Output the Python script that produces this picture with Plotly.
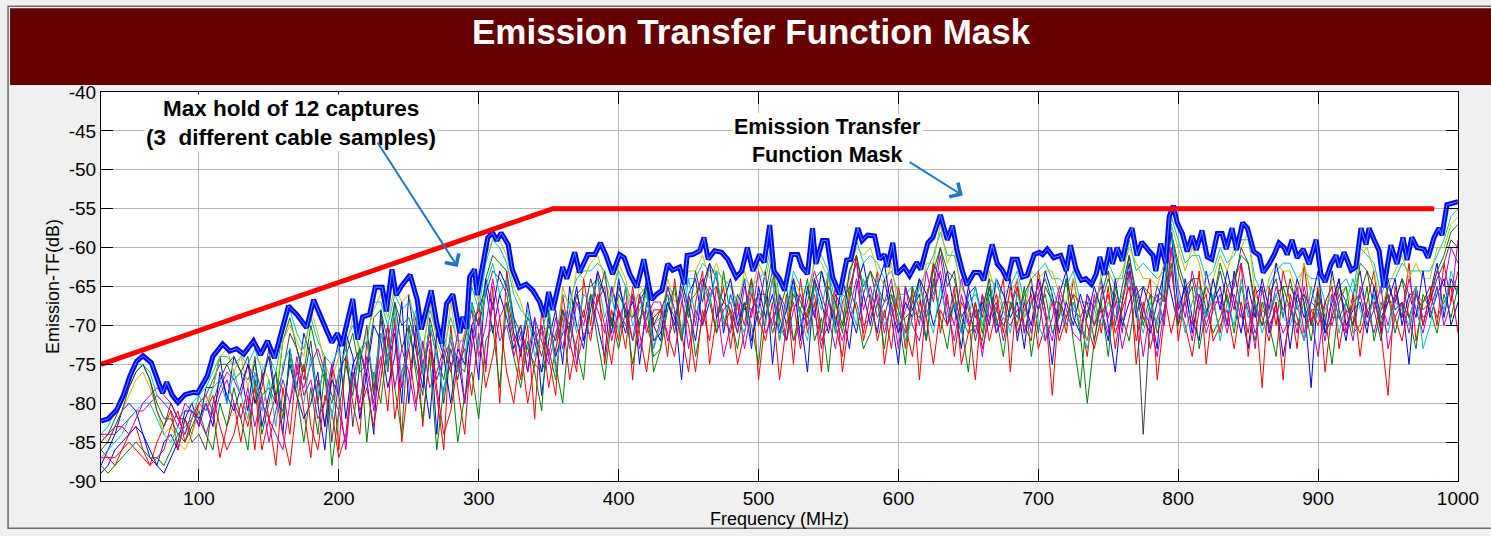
import plotly.graph_objects as go

# ---------------- data ----------------
freqs = list(range(30, 1001, 5))  # MHz grid of individual captures

mask_f = [30, 353, 983]
mask_db = [-75, -55, -55]

env_f = [30, 35, 41, 46, 50.7, 55.5, 60, 66, 71, 74, 77, 81, 85, 90, 96, 99, 106, 110, 117, 122,
         127, 132, 139, 144, 149, 154, 164, 170, 177, 182, 189, 195, 199, 202, 210, 213.5, 217, 222, 226, 231,
         234, 238, 241, 245, 251, 256, 259, 263, 266, 270, 273.5, 277, 281.5, 286.5, 288.5, 291, 293.5, 297, 299, 303,
         306.5, 310, 313, 316, 321, 324, 329, 334, 338.6, 343.6, 347, 350, 353, 360, 363, 368.6, 372, 378, 383, 387,
         391, 395.7, 400.7, 404, 408, 413, 418, 423.6, 427, 431, 435, 438.6, 443.6, 447, 449, 453, 458, 461, 464, 468.6,
         473.6, 478, 484, 488, 492, 496, 500.7, 504, 508, 511, 515, 518.6, 523.6, 528, 531, 535, 538.6, 541, 545.7, 549,
         553, 558, 563, 566, 571, 574, 578, 583, 586.5, 590, 592, 596, 599, 604, 608, 613, 616, 621, 624.6, 630,
         633, 635, 638.6, 642, 645.7, 649, 654, 658, 661, 667, 670.7, 674, 678, 681.4, 685, 688.6, 692, 697, 700.7, 703,
         706.4, 711, 716, 720, 723, 727, 730.7, 734, 738, 741.4, 744, 747, 751, 753, 756.4, 760, 763.6, 767, 770.5, 774,
         779, 782, 784, 787.5, 791, 793.6, 796.5, 799.3, 803, 806.4, 810, 813, 817, 820.7, 824, 828, 831.4, 834.3, 838.5, 841.7,
         846, 849.5, 854, 858, 860.7, 865, 868.6, 872, 875.7, 877.9, 881.4, 885, 889.3, 893.6, 898.6, 902, 905, 909.3, 912.9, 915,
         918.6, 923.6, 927, 930.7, 934.3, 936.4, 940, 943.6, 947, 952, 956.4, 960.7, 963.6, 967, 970.7, 975.7, 978.6, 982.9, 986.4, 988.6,
         992.1, 995.7, 1000]
env_db = [-82.3, -82.0, -80.9, -79.0, -76.5, -74.6, -73.9, -74.8, -77.3, -78.7, -77.3, -79.0, -79.9, -78.9, -78.6, -78.7, -76.5, -74.0, -72.4, -73.3,
          -73.0, -73.7, -72.0, -73.8, -72.0, -74.2, -67.5, -68.6, -70.3, -66.7, -69.7, -72.2, -71.0, -72.6, -66.6, -71.8, -68.9, -68.6, -65.1, -65.1,
          -68.2, -62.8, -66.1, -64.9, -63.5, -66.7, -70.5, -67.6, -65.5, -69.7, -72.3, -67.2, -66.0, -71.0, -68.9, -70.4, -63.8, -62.8, -66.1, -62.1,
          -58.7, -58.1, -59.1, -58.1, -59.6, -62.8, -65.1, -64.7, -65.5, -67.0, -68.9, -65.7, -68.0, -62.5, -64.0, -60.6, -63.2, -60.9, -60.9, -59.4,
          -61.0, -63.4, -60.9, -61.3, -63.4, -65.1, -61.5, -66.7, -66.0, -65.5, -62.1, -62.9, -62.5, -64.7, -61.0, -60.9, -60.4, -58.7, -61.5, -60.4,
          -60.6, -61.5, -63.8, -63.0, -60.0, -63.0, -60.9, -61.9, -57.1, -63.0, -64.0, -65.5, -60.9, -60.9, -62.5, -63.4, -57.5, -62.1, -59.1, -59.1,
          -63.8, -66.0, -61.6, -61.5, -57.5, -59.1, -58.4, -58.5, -61.5, -60.9, -62.5, -59.4, -63.4, -62.5, -63.6, -61.9, -62.8, -59.4, -58.7, -55.8,
          -57.9, -59.0, -57.2, -60.4, -63.0, -64.8, -63.2, -63.2, -64.2, -59.6, -62.1, -62.8, -64.2, -61.5, -61.5, -63.8, -63.6, -60.9, -60.6, -60.9,
          -60.2, -61.3, -61.0, -63.0, -59.7, -62.8, -64.2, -64.0, -64.7, -63.4, -61.2, -63.5, -60.0, -62.1, -60.0, -61.7, -58.7, -57.5, -61.0, -59.3,
          -60.4, -61.0, -63.0, -59.5, -62.0, -56.0, -54.6, -56.8, -58.2, -60.5, -58.5, -60.3, -57.8, -61.2, -61.5, -58.2, -58.2, -60.2, -57.5, -60.3,
          -56.8, -57.5, -60.5, -61.0, -63.2, -62.1, -60.9, -59.4, -60.0, -60.9, -59.0, -61.3, -60.2, -62.1, -59.0, -63.4, -64.4, -62.1, -61.0, -62.5,
          -60.6, -62.9, -62.5, -57.5, -59.6, -57.5, -59.0, -60.4, -65.1, -59.7, -62.1, -58.7, -61.6, -58.7, -60.0, -60.2, -61.3, -58.7, -57.5, -58.4,
          -54.5, -54.3, -54.1]

cap_cyan_a = [
    -84, -83, -81, -79, -77, -75, -75, -76, -79, -80,
    -80, -82, -81, -80, -79, -78, -76, -74, -74, -75,
    -74, -75, -73, -76, -74, -76, -71, -68, -71, -73,
    -69, -72, -74, -75, -73, -72, -70, -73, -72, -67,
    -67, -70, -66, -68, -67, -69, -73, -68, -71, -73,
    -69, -72, -72, -65, -68, -62, -59, -60, -62, -66,
    -68, -69, -70, -71, -70, -72, -66, -67, -64, -63,
    -63, -62, -63, -66, -63, -65, -67, -66, -65, -70,
    -69, -65, -66, -67, -64, -64, -62, -63, -63, -64,
    -65, -67, -64, -65, -64, -63, -59, -67, -68, -63,
    -65, -66, -62, -61, -63, -67, -66, -64, -59, -62,
    -61, -62, -64, -63, -66, -66, -65, -65, -63, -61,
    -58, -61, -61, -65, -67, -66, -68, -64, -65, -66,
    -65, -63, -67, -64, -63, -62, -64, -64, -65, -63,
    -67, -67, -68, -64, -62, -64, -64, -59, -63, -62,
    -63, -64, -63, -56, -59, -62, -61, -61, -64, -63,
    -60, -62, -61, -59, -59, -64, -66, -65, -63, -62,
    -62, -64, -63, -64, -64, -67, -65, -65, -64, -66,
    -60, -61, -62, -66, -64, -64, -62, -63, -63, -63,
    -63, -61, -59, -56, -55]
cap_green_a = [
    -85, -84, -82, -80, -78, -76, -75, -77, -80, -82,
    -82, -84, -83, -82, -80, -79, -77, -75, -75, -77,
    -76, -77, -75, -79, -78, -80, -72, -69, -73, -76,
    -70, -74, -77, -80, -76, -74, -71, -76, -75, -69,
    -68, -72, -67, -70, -69, -72, -76, -70, -74, -77,
    -71, -75, -76, -67, -70, -64, -61, -62, -63, -69,
    -71, -73, -75, -76, -73, -77, -68, -70, -66, -65,
    -65, -64, -66, -70, -66, -68, -72, -69, -68, -74,
    -73, -67, -69, -71, -67, -66, -64, -66, -65, -67,
    -68, -71, -67, -68, -66, -66, -61, -70, -72, -66,
    -68, -70, -64, -63, -66, -71, -70, -67, -61, -65,
    -63, -65, -67, -66, -70, -69, -68, -69, -66, -63,
    -60, -63, -64, -69, -71, -70, -72, -66, -68, -70,
    -68, -65, -71, -67, -66, -64, -67, -67, -69, -66,
    -71, -80, -72, -67, -64, -67, -67, -61, -66, -65,
    -66, -67, -66, -58, -62, -65, -64, -64, -68, -67,
    -62, -65, -64, -61, -62, -67, -70, -69, -66, -65,
    -65, -67, -66, -68, -68, -71, -69, -69, -67, -70,
    -62, -63, -65, -70, -67, -67, -64, -66, -66, -67,
    -66, -63, -61, -58, -57]
cap_olive = [
    -84, -85, -83, -81, -79, -77, -76, -78, -81, -84,
    -83, -85, -86, -84, -81, -80, -78, -74, -73, -76,
    -74, -78, -74, -75, -77, -79, -72, -70, -72, -74,
    -68, -71, -75, -77, -74, -73, -69, -74, -71, -68,
    -66, -69, -65, -67, -66, -70, -74, -67, -72, -75,
    -67, -73, -71, -64, -67, -61, -59, -59, -61, -65,
    -67, -70, -71, -73, -71, -74, -65, -68, -63, -64,
    -62, -61, -64, -67, -62, -64, -69, -65, -66, -72,
    -70, -64, -67, -66, -63, -63, -61, -64, -62, -65,
    -64, -68, -63, -66, -62, -64, -60, -69, -70, -64,
    -66, -69, -61, -62, -64, -69, -68, -63, -60, -61,
    -60, -63, -65, -62, -68, -67, -66, -67, -62, -62,
    -57, -62, -60, -66, -69, -68, -70, -63, -66, -68,
    -66, -64, -69, -63, -64, -63, -63, -66, -67, -64,
    -69, -72, -70, -63, -63, -65, -63, -60, -62, -64,
    -64, -65, -62, -57, -60, -63, -60, -62, -66, -64,
    -61, -63, -60, -60, -58, -66, -68, -64, -62, -63,
    -63, -66, -62, -66, -65, -69, -64, -66, -65, -68,
    -61, -60, -63, -68, -65, -63, -61, -64, -62, -64,
    -64, -60, -60, -57, -56]
cap_blue_a = [
    -88, -86, -84, -81, -80, -81, -84, -87, -88, -85,
    -84, -86, -82, -80, -83, -78, -78, -74, -80, -74,
    -76, -81, -74, -83, -79, -76, -84, -73, -78, -71,
    -74, -80, -86, -76, -72, -82, -75, -73, -77, -84,
    -68, -75, -71, -80, -66, -73, -78, -70, -84, -72,
    -75, -74, -80, -70, -68, -65, -71, -66, -69, -73,
    -70, -76, -69, -79, -72, -68, -75, -65, -70, -73,
    -66, -70, -74, -65, -68, -71, -66, -75, -67, -70,
    -72, -65, -68, -77, -66, -64, -70, -67, -63, -71,
    -66, -69, -64, -72, -68, -63, -75, -66, -70, -64,
    -69, -76, -64, -67, -71, -66, -68, -73, -65, -62,
    -67, -71, -64, -69, -75, -65, -68, -66, -72, -62,
    -64, -70, -67, -73, -66, -65, -69, -65, -71, -68,
    -64, -72, -67, -70, -64, -68, -75, -66, -63, -69,
    -71, -66, -68, -64, -70, -76, -67, -62, -69, -65,
    -68, -73, -62, -66, -70, -64, -69, -72, -63, -67,
    -65, -70, -63, -68, -73, -66, -65, -71, -67, -74,
    -69, -64, -67, -78, -65, -70, -63, -68, -72, -66,
    -63, -69, -66, -71, -64, -68, -67, -75, -65, -70,
    -66, -62, -69, -64, -66]
cap_red_a = [
    -87, -87, -88, -86, -84, -83, -86, -88, -85, -83,
    -81, -86, -82, -84, -80, -79, -81, -87, -83, -80,
    -85, -79, -86, -76, -82, -88, -78, -84, -75, -81,
    -87, -77, -83, -75, -86, -74, -80, -84, -72, -78,
    -74, -81, -69, -85, -77, -71, -83, -73, -79, -86,
    -70, -78, -84, -72, -67, -76, -65, -80, -63, -71,
    -77, -70, -82, -68, -74, -79, -66, -72, -76, -64,
    -70, -63, -75, -68, -72, -65, -77, -66, -71, -68,
    -68, -74, -64, -71, -76, -67, -63, -75, -69, -65,
    -73, -67, -70, -64, -77, -69, -64, -72, -66, -75,
    -64, -71, -67, -76, -63, -70, -74, -66, -61, -72,
    -68, -63, -75, -69, -66, -73, -65, -77, -67, -62,
    -71, -66, -74, -67, -69, -77, -66, -72, -68, -64,
    -76, -65, -70, -72, -63, -68, -79, -67, -71, -64,
    -69, -74, -66, -71, -65, -73, -67, -63, -75, -68,
    -64, -77, -69, -60, -72, -66, -70, -63, -75, -67,
    -71, -65, -68, -62, -74, -67, -78, -65, -70, -63,
    -67, -73, -62, -70, -65, -76, -68, -64, -71, -66,
    -74, -67, -63, -71, -79, -65, -69, -62, -72, -67,
    -65, -70, -62, -67, -63]
cap_magenta_a = [
    -85, -84, -84, -83, -82, -81, -81, -80, -79, -80,
    -81, -83, -80, -81, -82, -84, -81, -78, -76, -77,
    -79, -75, -77, -80, -82, -84, -86, -80, -76, -78,
    -75, -73, -76, -79, -81, -85, -77, -73, -76, -80,
    -71, -74, -70, -78, -73, -69, -75, -72, -77, -74,
    -72, -76, -71, -68, -74, -70, -64, -69, -67, -72,
    -70, -74, -69, -72, -75, -71, -68, -73, -67, -70,
    -66, -68, -71, -65, -69, -67, -72, -66, -70, -73,
    -69, -65, -68, -72, -66, -70, -64, -67, -71, -68,
    -67, -71, -65, -69, -63, -67, -70, -66, -68, -72,
    -70, -67, -63, -66, -69, -73, -67, -65, -62, -68,
    -65, -69, -67, -64, -71, -68, -66, -70, -63, -67,
    -61, -67, -70, -64, -68, -71, -66, -69, -67, -72,
    -68, -64, -71, -67, -65, -69, -72, -66, -70, -67,
    -70, -72, -67, -65, -69, -66, -71, -63, -67, -74,
    -68, -66, -70, -60, -65, -69, -63, -67, -71, -68,
    -66, -70, -64, -62, -67, -71, -68, -69, -65, -68,
    -67, -71, -65, -69, -74, -67, -70, -66, -68, -72,
    -65, -68, -71, -67, -70, -66, -69, -64, -68, -71,
    -67, -63, -65, -60, -62]
cap_gray = [
    -86, -85, -83, -81, -78, -76, -75, -77, -81, -83,
    -80, -82, -82, -85, -84, -86, -80, -77, -75, -74,
    -76, -74, -80, -78, -73, -79, -76, -71, -73, -77,
    -72, -80, -74, -85, -77, -72, -83, -75, -70, -79,
    -69, -76, -67, -73, -70, -75, -79, -69, -73, -80,
    -73, -77, -72, -68, -70, -66, -63, -64, -66, -71,
    -73, -69, -71, -74, -70, -72, -68, -71, -66, -69,
    -64, -67, -63, -70, -65, -68, -69, -67, -65, -70,
    -68, -66, -71, -65, -69, -63, -67, -62, -64, -69,
    -71, -66, -68, -64, -70, -67, -63, -69, -72, -65,
    -67, -69, -64, -71, -65, -67, -70, -63, -61, -66,
    -63, -67, -69, -65, -68, -71, -67, -64, -69, -65,
    -60, -65, -63, -69, -67, -72, -68, -64, -70, -67,
    -67, -69, -66, -64, -71, -65, -67, -69, -64, -68,
    -69, -67, -72, -66, -63, -70, -65, -61, -67, -84,
    -69, -65, -67, -58, -63, -66, -64, -68, -65, -67,
    -63, -67, -65, -60, -62, -68, -70, -66, -64, -69,
    -64, -68, -66, -70, -67, -71, -69, -65, -67, -70,
    -66, -63, -68, -72, -65, -67, -64, -69, -66, -68,
    -67, -64, -62, -59, -60]
cap_blue_b = [
    -89, -88, -86, -85, -84, -83, -84, -86, -88, -89,
    -87, -85, -81, -81, -82, -80, -83, -76, -79, -81,
    -78, -75, -80, -77, -74, -80, -81, -75, -79, -82,
    -80, -76, -83, -77, -79, -71, -74, -82, -76, -70,
    -72, -78, -74, -67, -80, -70, -76, -82, -71, -74,
    -80, -73, -75, -70, -77, -64, -68, -63, -65, -69,
    -74, -67, -72, -76, -69, -74, -71, -70, -65, -72,
    -68, -63, -66, -71, -64, -69, -67, -70, -64, -72,
    -71, -67, -70, -64, -68, -72, -65, -62, -69, -67,
    -64, -70, -67, -73, -65, -69, -66, -71, -68, -64,
    -72, -65, -69, -63, -67, -70, -64, -68, -71, -66,
    -70, -65, -62, -68, -71, -67, -69, -64, -66, -70,
    -67, -63, -68, -71, -65, -69, -67, -70, -64, -66,
    -69, -67, -73, -65, -68, -63, -66, -71, -67, -70,
    -66, -69, -65, -68, -72, -64, -70, -67, -65, -69,
    -71, -67, -63, -58, -68, -65, -71, -66, -69, -64,
    -68, -63, -67, -71, -65, -69, -64, -68, -62, -66,
    -73, -66, -69, -67, -63, -71, -67, -64, -70, -68,
    -67, -71, -65, -69, -67, -64, -70, -66, -69, -63,
    -69, -66, -64, -70, -67]
cap_green_b = [
    -88, -89, -88, -87, -86, -85, -86, -87, -87, -88,
    -86, -84, -85, -83, -81, -84, -86, -80, -83, -78,
    -82, -86, -77, -84, -80, -76, -82, -74, -79, -85,
    -78, -84, -76, -88, -81, -75, -79, -73, -85, -76,
    -80, -72, -78, -84, -70, -76, -82, -74, -86, -78,
    -75, -85, -79, -76, -82, -72, -70, -78, -67, -74,
    -78, -72, -76, -81, -68, -75, -80, -70, -73, -77,
    -66, -72, -77, -69, -73, -68, -75, -70, -65, -76,
    -73, -68, -65, -72, -67, -74, -69, -66, -71, -63,
    -69, -73, -67, -70, -75, -66, -71, -68, -65, -72,
    -68, -64, -72, -69, -76, -67, -71, -65, -68, -73,
    -71, -67, -73, -66, -69, -75, -65, -68, -72, -64,
    -69, -73, -66, -70, -76, -67, -71, -65, -69, -74,
    -67, -70, -65, -74, -68, -66, -71, -69, -64, -72,
    -78, -68, -70, -67, -74, -65, -69, -72, -66, -70,
    -66, -71, -68, -62, -70, -67, -65, -73, -68, -71,
    -69, -66, -71, -65, -68, -72, -67, -70, -74, -65,
    -68, -70, -67, -72, -66, -69, -75, -67, -65, -71,
    -70, -65, -72, -68, -66, -71, -67, -69, -73, -66,
    -68, -71, -66, -69, -65]
cap_red_b = [
    -86, -87, -87, -86, -85, -86, -87, -88, -87, -86,
    -83, -81, -85, -82, -80, -81, -79, -83, -86, -84,
    -80, -83, -78, -86, -82, -79, -84, -88, -80, -75,
    -83, -86, -79, -81, -87, -84, -76, -81, -78, -83,
    -77, -70, -82, -76, -73, -80, -75, -71, -78, -84,
    -81, -75, -73, -79, -71, -78, -74, -69, -76, -80,
    -73, -80, -75, -70, -78, -73, -69, -77, -72, -68,
    -72, -66, -70, -75, -68, -73, -65, -71, -76, -69,
    -68, -71, -74, -67, -70, -76, -68, -72, -65, -70,
    -68, -75, -71, -66, -69, -72, -67, -77, -70, -67,
    -73, -68, -66, -72, -70, -65, -76, -69, -67, -71,
    -66, -72, -68, -73, -65, -70, -74, -67, -69, -75,
    -68, -70, -65, -75, -71, -67, -73, -69, -66, -71,
    -65, -71, -68, -66, -73, -70, -67, -72, -69, -66,
    -67, -70, -73, -69, -66, -71, -68, -65, -72, -67,
    -73, -69, -66, -71, -67, -70, -74, -68, -66, -72,
    -70, -68, -73, -67, -71, -65, -69, -72, -67, -77,
    -66, -69, -72, -68, -70, -67, -65, -73, -68, -69,
    -71, -68, -67, -70, -66, -69, -72, -67, -65, -70,
    -66, -69, -67, -65, -71]
cap_cyan_b = [
    -87, -86, -85, -84, -82, -81, -80, -80, -82, -84,
    -85, -83, -84, -82, -79, -81, -78, -77, -80, -76,
    -79, -82, -76, -81, -77, -83, -75, -73, -78, -80,
    -74, -79, -75, -82, -76, -73, -78, -74, -72, -77,
    -71, -75, -68, -77, -72, -68, -76, -70, -74, -79,
    -71, -76, -74, -67, -73, -65, -62, -66, -64, -70,
    -72, -68, -74, -71, -67, -76, -70, -67, -71, -66,
    -67, -64, -69, -66, -71, -65, -70, -68, -66, -73,
    -70, -66, -68, -71, -64, -69, -65, -67, -63, -70,
    -66, -69, -71, -65, -68, -70, -64, -72, -67, -65,
    -69, -72, -65, -68, -63, -71, -66, -67, -70, -64,
    -67, -64, -70, -68, -66, -72, -69, -65, -68, -71,
    -65, -69, -67, -71, -69, -65, -70, -67, -64, -68,
    -71, -66, -69, -67, -70, -72, -65, -68, -70, -67,
    -70, -73, -68, -70, -67, -69, -66, -64, -68, -71,
    -67, -70, -65, -57, -66, -71, -67, -65, -69, -66,
    -72, -67, -70, -64, -69, -67, -71, -68, -66, -69,
    -70, -67, -72, -65, -69, -68, -66, -71, -67, -64,
    -68, -70, -66, -69, -71, -67, -68, -70, -65, -73,
    -70, -65, -68, -63, -66]
cap_magenta_b = [
    -84, -84, -83, -83, -84, -82, -80, -79, -78, -79,
    -80, -82, -84, -81, -83, -80, -82, -79, -77, -80,
    -82, -78, -83, -79, -85, -81, -77, -80, -74, -79,
    -77, -82, -80, -75, -79, -86, -76, -80, -74, -81,
    -75, -70, -78, -73, -76, -81, -72, -78, -76, -73,
    -76, -71, -80, -73, -69, -75, -67, -72, -70, -74,
    -71, -76, -72, -70, -74, -69, -73, -68, -75, -71,
    -71, -67, -65, -72, -68, -70, -66, -73, -69, -67,
    -67, -72, -69, -66, -73, -68, -70, -65, -67, -74,
    -70, -67, -73, -68, -66, -71, -69, -67, -72, -68,
    -66, -70, -68, -73, -67, -69, -72, -68, -64, -70,
    -69, -66, -71, -67, -73, -65, -70, -72, -67, -66,
    -63, -68, -72, -66, -70, -68, -74, -67, -71, -69,
    -70, -68, -67, -71, -66, -72, -69, -65, -68, -71,
    -72, -66, -70, -68, -71, -67, -73, -69, -65, -68,
    -70, -74, -68, -63, -69, -67, -72, -66, -70, -67,
    -67, -71, -66, -69, -67, -73, -65, -70, -68, -71,
    -69, -65, -71, -67, -68, -72, -66, -69, -71, -67,
    -66, -70, -68, -65, -73, -69, -67, -71, -66, -69,
    -68, -65, -70, -67, -59]

captures = [
    ("rgb(0,0,255)", cap_blue_a),
    ("rgb(0,128,0)", cap_green_a),
    ("rgb(255,0,0)", cap_red_a),
    ("rgb(0,191,191)", cap_cyan_a),
    ("rgb(191,0,191)", cap_magenta_a),
    ("rgb(191,191,0)", cap_olive),
    ("rgb(64,64,64)", cap_gray),
    ("rgb(0,0,255)", cap_blue_b),
    ("rgb(0,128,0)", cap_green_b),
    ("rgb(255,0,0)", cap_red_b),
    ("rgb(0,191,191)", cap_cyan_b),
    ("rgb(191,0,191)", cap_magenta_b),
]

title_text = "Emission Transfer Function Mask"
x_title = "Frequency (MHz)"
y_title = "Emission-TF(dB)"
x_ticks = [100, 200, 300, 400, 500, 600, 700, 800, 900, 1000]
x_tick_labels = ["100", "200", "300", "400", "500", "600", "700", "800", "900", "1000"]
y_ticks = [-90, -85, -80, -75, -70, -65, -60, -55, -50, -45, -40]
y_tick_labels = ["-90", "-85", "-80", "-75", "-70", "-65", "-60", "-55", "-50", "-45", "-40"]

# ---------------- figure ----------------
fig = go.Figure()
for color, vals in captures:
    fig.add_trace(go.Scatter(x=freqs, y=vals, mode="lines",
                             line=dict(color=color, width=1), hoverinfo="skip"))

fig.add_trace(go.Scatter(x=env_f, y=env_db, mode="lines",
                         line=dict(color="rgb(0,0,255)", width=5), name="Max hold"))
fig.add_trace(go.Scatter(x=env_f, y=env_db, mode="lines",
                         line=dict(color="rgb(70,150,255)", width=1), hoverinfo="skip"))
fig.add_trace(go.Scatter(x=mask_f, y=mask_db, mode="lines",
                         line=dict(color="rgb(255,0,0)", width=5), name="Mask"))

bold_font = "Liberation Sans, Arial, sans-serif"
base = "Liberation Sans, Arial, sans-serif"

W, H = 1491, 536
L, R, T, B = 101, 32, 92, 49
pw, ph = W - L - R, H - T - B


def px(xp):
    return (xp - L) / pw


def py(yp):
    return (H - B - yp) / ph


shapes = [
    dict(type="rect", xref="paper", yref="paper", x0=px(8), x1=px(1500), y0=py(535), y1=py(5),
         line=dict(color="#6a6a6a", width=1.5), fillcolor="rgba(0,0,0,0)", layer="below"),
    dict(type="rect", xref="paper", yref="paper", x0=px(10), x1=px(1500), y0=py(85), y1=py(7),
         line=dict(width=0), fillcolor="#660000"),
]

annotations = [
    dict(xref="paper", yref="paper", x=px(752), y=py(31), text="<b>" + title_text + "</b>",
         showarrow=False, font=dict(family=bold_font, size=35, color="white"), xanchor="center", yanchor="middle"),
    dict(x=166, y=-44.0, xref="x", yref="y",
         text="<b>Max hold of 12 captures<br>(3\u00a0 different cable samples)</b>",
         showarrow=False, font=dict(family=bold_font, size=22.5, color="black"), bgcolor="white",
         xanchor="center", yanchor="middle"),
    dict(x=549, y=-46.3, xref="x", yref="y",
         text="<b>Emission Transfer<br>Function Mask</b>",
         showarrow=False, font=dict(family=bold_font, size=21.5, color="black"), bgcolor="white",
         xanchor="center", yanchor="middle"),
    dict(x=285, y=-62.5, ax=227, ay=-46.3, xref="x", yref="y", axref="x", ayref="y",
         text="", showarrow=True, arrowhead=4, arrowsize=1.6, arrowwidth=2, arrowcolor="rgb(30,120,195)"),
    dict(x=646, y=-53.3, ax=607, ay=-48.9, xref="x", yref="y", axref="x", ayref="y",
         text="", showarrow=True, arrowhead=4, arrowsize=1.6, arrowwidth=2, arrowcolor="rgb(30,120,195)"),
]

fig.update_layout(
    width=W, height=H,
    margin=dict(l=L, r=R, t=T, b=B, pad=0),
    paper_bgcolor="#f0f0f0", plot_bgcolor="white",
    showlegend=False,
    shapes=shapes, annotations=annotations,
    font=dict(family=base, color="black"),
)
fig.update_xaxes(range=[30, 1000], tickvals=x_ticks, ticktext=x_tick_labels, ticks="inside", ticklen=12,
                 tickcolor="black", showline=True, linecolor="black", linewidth=1, mirror="allticks",
                 showgrid=True, gridcolor="#b8b8b8", gridwidth=1, zeroline=False,
                 tickfont=dict(size=19), title=dict(text=x_title, font=dict(size=18), standoff=3))
fig.update_yaxes(range=[-90, -40], tickvals=y_ticks, ticktext=y_tick_labels, ticks="inside", ticklen=12,
                 tickcolor="black", showline=True, linecolor="black", linewidth=1, mirror="allticks",
                 showgrid=True, gridcolor="#b8b8b8", gridwidth=1, zeroline=False,
                 tickfont=dict(size=19), title=dict(text=y_title, font=dict(size=18), standoff=4))

fig.write_html("out.html")
